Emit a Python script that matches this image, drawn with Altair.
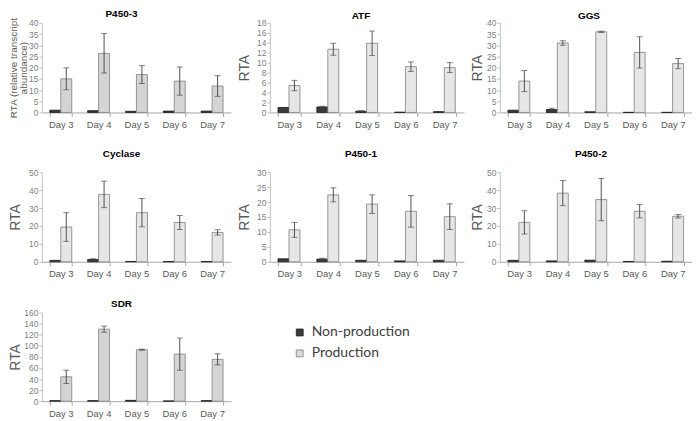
import altair as alt
import pandas as pd

days = ["Day 3", "Day 4", "Day 5", "Day 6", "Day 7"]
series = ["Non-production", "Production"]

p450_3_non = [1.0, 0.8, 0.5, 0.6, 0.6]
p450_3_non_err = [0, 0, 0, 0, 0]
p450_3_prod = [15.0, 26.4, 16.9, 14.0, 11.8]
p450_3_prod_err = [4.9, 8.8, 4.0, 6.3, 4.6]

atf_non = [1.0, 1.1, 0.25, 0.05, 0.15]
atf_non_err = [0, 0.15, 0.1, 0, 0.05]
atf_prod = [5.4, 12.7, 13.9, 9.2, 9.0]
atf_prod_err = [1.05, 1.2, 2.45, 0.95, 1.0]

ggs_non = [1.0, 1.3, 0.3, 0.05, 0.05]
ggs_non_err = [0, 0.6, 0, 0, 0]
ggs_prod = [14.0, 31.0, 36.0, 26.8, 21.8]
ggs_prod_err = [4.7, 1.0, 0.3, 7.0, 2.3]

cyclase_non = [0.8, 1.3, 0.2, 0.1, 0.1]
cyclase_non_err = [0, 0.4, 0, 0, 0]
cyclase_prod = [19.4, 37.6, 27.4, 21.9, 16.4]
cyclase_prod_err = [8.0, 7.4, 7.9, 3.9, 1.5]

p450_1_non = [1.0, 0.9, 0.5, 0.3, 0.5]
p450_1_non_err = [0, 0.3, 0, 0, 0]
p450_1_prod = [10.7, 22.4, 19.3, 16.9, 15.1]
p450_1_prod_err = [2.5, 2.35, 3.1, 5.3, 4.3]

p450_2_non = [0.8, 0.5, 0.9, 0.2, 0.3]
p450_2_non_err = [0, 0, 0, 0, 0]
p450_2_prod = [22.0, 38.3, 34.7, 28.2, 25.4]
p450_2_prod_err = [6.5, 7.0, 11.8, 3.7, 1.0]

sdr_non = [1.0, 1.0, 1.5, 0.5, 1.0]
sdr_non_err = [0, 0, 0, 0, 0]
sdr_prod = [44.0, 130.0, 93.0, 85.0, 75.5]
sdr_prod_err = [12.0, 5.5, 1.0, 29.0, 10.0]

DARK = "#3a3a3a"
FONT = "Liberation Sans"


def panel(name, non, non_err, prod, prod_err, ymax, ystep, ytitle, light,
          width, height, extent, tpad, title_offset, title_dx):
    df = pd.DataFrame({
        "day": days + days,
        "series": [series[0]] * 5 + [series[1]] * 5,
        "value": non + prod,
        "err": non_err + prod_err,
        "fill": [DARK] * 5 + [light] * 5,
        "stroke": ["#1a1a1a"] * 5 + ["#7f7f7f"] * 5,
    })
    base = alt.Chart(df)
    x = alt.X("day:N", sort=days, title=None,
              scale=alt.Scale(domain=days, paddingInner=0.42, paddingOuter=0.21),
              axis=alt.Axis(labelAngle=0, labelFont=FONT, labelFontSize=9.5,
                            labelColor="#595959", domainColor="#a6a6a6",
                            tickColor="#a6a6a6", tickSize=4, tickBand="extent",
                            labelPadding=3))
    xo = alt.XOffset("series:N", scale=alt.Scale(domain=series, paddingInner=0, paddingOuter=0))
    yscale = alt.Scale(domain=[0, ymax], nice=False, zero=True)
    multi = isinstance(ytitle, list)
    yaxis = alt.Axis(values=list(range(0, ymax + 1, ystep)), title=ytitle,
                     grid=False, labelFont=FONT, labelFontSize=8.5,
                     labelColor="#808080", domainColor="#bfbfbf",
                     tickColor="#bfbfbf", tickSize=3, labelPadding=1,
                     minExtent=extent, maxExtent=extent,
                     titleFont=FONT, titleColor="#595959",
                     titleFontWeight="normal",
                     titleFontSize=10 if multi else 14,
                     titleLineHeight=10.5, titlePadding=tpad)
    bars = base.mark_bar(strokeWidth=0.8).encode(
        x=x, xOffset=xo,
        y=alt.Y("value:Q", scale=yscale, axis=yaxis, title=ytitle),
        fill=alt.Fill("fill:N", scale=None),
        stroke=alt.Stroke("stroke:N", scale=None),
    )
    errs = base.transform_filter("datum.err > 0").transform_calculate(
        lo="datum.value - datum.err", hi="datum.value + datum.err")
    rule = errs.mark_rule(color="#404040", strokeWidth=0.9).encode(
        x=x, xOffset=xo,
        y=alt.Y("lo:Q", scale=yscale, axis=yaxis, title=ytitle), y2="hi:Q")
    cap_hi = errs.mark_tick(color="#404040", thickness=0.9, size=6).encode(
        x=x, xOffset=xo, y=alt.Y("hi:Q", scale=yscale, axis=yaxis, title=ytitle))
    cap_lo = errs.mark_tick(color="#404040", thickness=0.9, size=6).encode(
        x=x, xOffset=xo, y=alt.Y("lo:Q", scale=yscale, axis=yaxis, title=ytitle))
    return alt.layer(bars, rule, cap_hi, cap_lo).properties(
        width=width, height=height,
        title=alt.TitleParams(name, font=FONT, fontSize=10, fontWeight="bold",
                              color="#000000", offset=title_offset, dx=title_dx))


LIGHT_A = "#d4d4d4"
LIGHT_B = "#e6e6e6"
long_title = ["RTA (relative transcript", "abundance)"]

W1, W2, W3 = 190, 195, 193
H1, H2, H3 = 90, 90, 89

p1 = panel("P450-3", p450_3_non, p450_3_non_err, p450_3_prod, p450_3_prod_err, 40, 5, long_title, LIGHT_A, W1, H1, 13, 0, -2, -15)
p2 = panel("ATF", atf_non, atf_non_err, atf_prod, atf_prod_err, 18, 2, "RTA", LIGHT_B, W2, H1, 16, 2, -2, -6)
p3 = panel("GGS", ggs_non, ggs_non_err, ggs_prod, ggs_prod_err, 40, 5, "RTA", LIGHT_B, W3, H1, 14, 1, -2, -7)
p4 = panel("Cyclase", cyclase_non, cyclase_non_err, cyclase_prod, cyclase_prod_err, 50, 10, "RTA", LIGHT_B, W1, H2, 18, 1, 9, -15)
p5 = panel("P450-1", p450_1_non, p450_1_non_err, p450_1_prod, p450_1_prod_err, 30, 5, "RTA", LIGHT_B, W2, H2, 16, 2, 9, -6)
p6 = panel("P450-2", p450_2_non, p450_2_non_err, p450_2_prod, p450_2_prod_err, 50, 10, "RTA", LIGHT_B, W3, H2, 14, 1, 9, -5)
p7 = panel("SDR", sdr_non, sdr_non_err, sdr_prod, sdr_prod_err, 160, 20, "RTA", LIGHT_A, W1, H3, 18, 1, 0, -15)

legend_df = pd.DataFrame({
    "series": series,
    "fill": [DARK, "#d9d9d9"],
    "stroke": ["#1a1a1a", "#7f7f7f"],
})
ly = alt.Y("series:N", axis=None,
           scale=alt.Scale(type="point", domain=series, range=[20, 41], padding=0))
leg_sq = alt.Chart(legend_df).mark_square(size=48, strokeWidth=0.8, opacity=1).encode(
    x=alt.value(5), y=ly,
    fill=alt.Fill("fill:N", scale=None), stroke=alt.Stroke("stroke:N", scale=None))
leg_tx = alt.Chart(legend_df).mark_text(align="left", baseline="middle", font="Lato",
                                        fontSize=14, color="#404040").encode(
    x=alt.value(17), y=ly, text="series:N")
legend = alt.layer(leg_sq, leg_tx).properties(width=150, height=H3)

row1 = alt.hconcat(p1, p2, p3, spacing=7)
row2 = alt.hconcat(p4, p5, p6, spacing=7)
row3 = alt.hconcat(p7, legend, spacing=63)

chart = alt.vconcat(row1, row2, row3, spacing=20).properties(
    padding={"left": 0, "top": 0, "right": 0, "bottom": 0},
    background="#ffffff",
).configure_view(stroke=None)

chart.save("out.html", embed_options={"renderer": "svg", "actions": False})
